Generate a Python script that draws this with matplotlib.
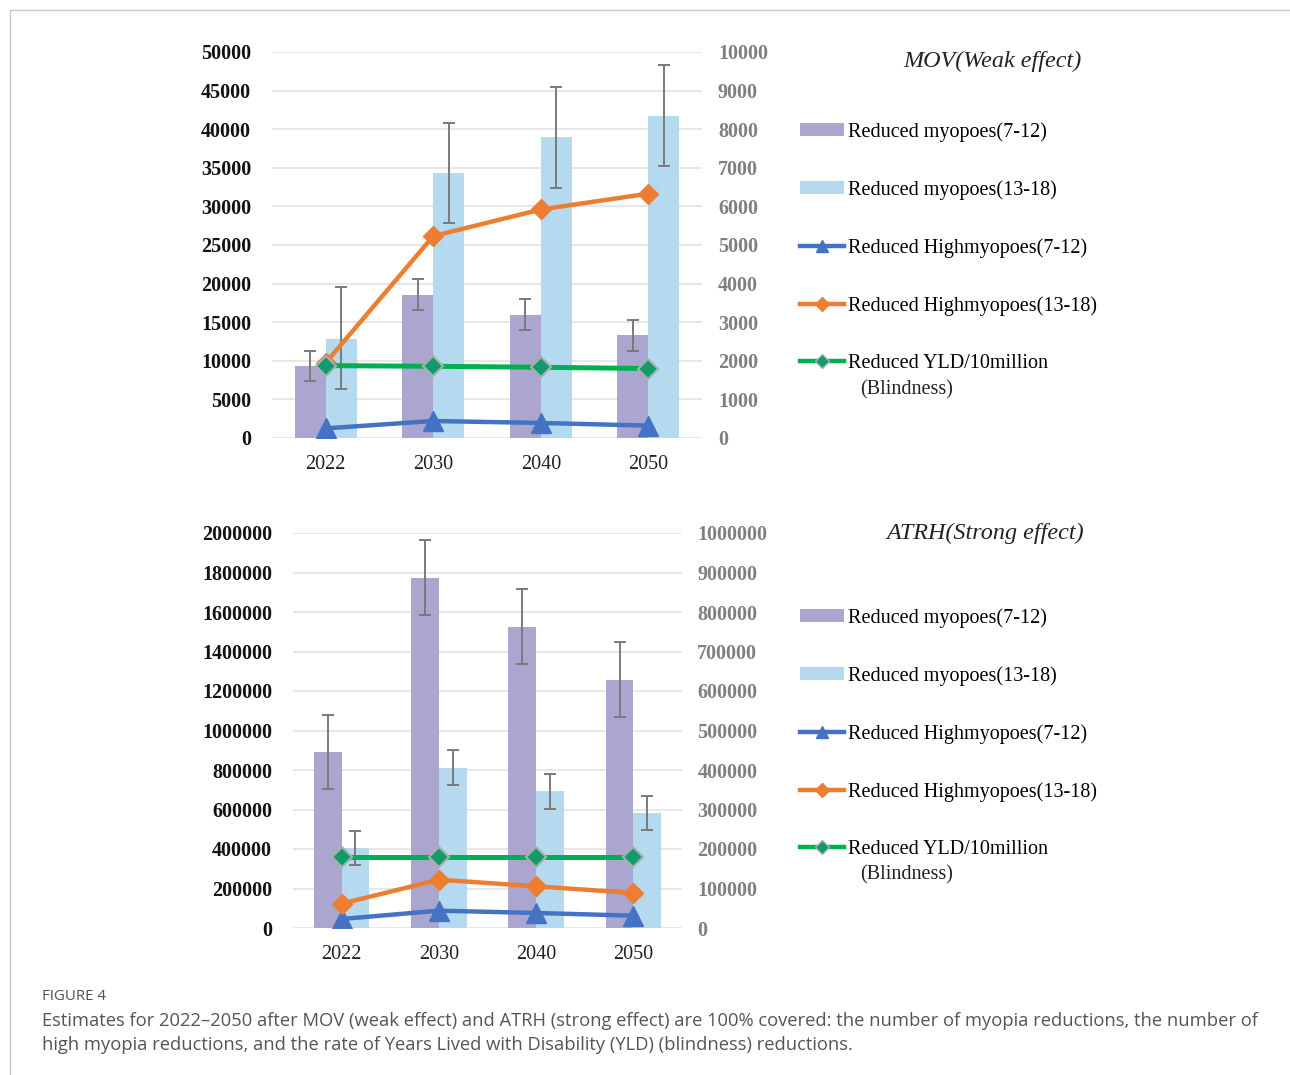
import matplotlib
matplotlib.use("Agg")
import matplotlib.pyplot as plt
import numpy as np
from matplotlib.lines import Line2D

years = ["2022", "2030", "2040", "2050"]

# MOV (weak effect)
mov_my712 = [9300, 18580, 15990, 13310]
mov_my712_hi = [11320, 20610, 18020, 15250]
mov_my712_lo = [7350, 16550, 14050, 11320]
mov_my1318 = [12880, 34310, 38940, 41660]
mov_my1318_hi = [19530, 40840, 45460, 48270]
mov_my1318_lo = [6400, 27830, 32410, 35220]
mov_high712 = [250, 440, 390, 320]
mov_high1318 = [1950, 5230, 5920, 6330]
mov_yld = [1875, 1858, 1832, 1800]

# ATRH (strong effect)
atrh_my712 = [889000, 1774000, 1524000, 1257000]
atrh_my712_hi = [1080000, 1963000, 1715000, 1446000]
atrh_my712_lo = [704000, 1585000, 1337000, 1070000]
atrh_my1318 = [405000, 812000, 692000, 584000]
atrh_my1318_hi = [493000, 901000, 780000, 670000]
atrh_my1318_lo = [321000, 726000, 604000, 498000]
atrh_high712 = [22800, 43900, 38000, 31200]
atrh_high1318 = [61600, 122400, 105500, 88600]
atrh_yld = [179000, 179000, 179000, 179000]

labels = ["Reduced myopoes(7-12)", "Reduced myopoes(13-18)",
          "Reduced Highmyopoes(7-12)", "Reduced Highmyopoes(13-18)",
          "Reduced YLD/10million"]
label_cont = "(Blindness)"

C_PURPLE = "#ABA6D0"
C_LBLUE = "#B5DAF0"
C_BLUE = "#4472C4"
C_ORANGE = "#ED7D31"
C_GREEN = "#00B050"
C_GRID = "#E3E3E3"
C_ERR = "#7A7A7A"

SERIF = "Liberation Serif"

W, H = 1290, 1075
fig = plt.figure(figsize=(W / 100, H / 100), dpi=100)


def panel(rect, my712, my712_hi, my712_lo, my1318, my1318_hi, my1318_lo,
          h712, h1318, yld, ylim_l, ylim_r, step_l, step_r, bw,
          pad_l, pad_r, title, title_xy, leg_xy, cont_xy):
    ax = fig.add_axes(rect)
    x = np.arange(len(years))
    my712 = np.array(my712); my1318 = np.array(my1318)
    e1 = [my712 - np.array(my712_lo), np.array(my712_hi) - my712]
    e2 = [my1318 - np.array(my1318_lo), np.array(my1318_hi) - my1318]
    b1 = ax.bar(x - bw / 2, my712, bw, color=C_PURPLE, zorder=2)
    b2 = ax.bar(x + bw / 2, my1318, bw, color=C_LBLUE, zorder=2)
    ax.errorbar(x - bw / 2, my712, yerr=e1, fmt="none", ecolor=C_ERR,
                elinewidth=1.4, capsize=4, capthick=1.4, zorder=3)
    ax.errorbar(x + bw / 2, my1318, yerr=e2, fmt="none", ecolor=C_ERR,
                elinewidth=1.4, capsize=4, capthick=1.4, zorder=3)
    ax.set_xlim(-0.5, len(years) - 0.5)
    ax.set_ylim(*ylim_l)
    ax.set_yticks(np.arange(ylim_l[0], ylim_l[1] + 1, step_l))
    ax.set_yticklabels([str(int(v)) for v in ax.get_yticks()],
                       fontfamily=SERIF, fontweight="bold", fontsize=14.5,
                       color="#111111")
    ax.set_xticks(x)
    ax.set_xticklabels(years, fontfamily=SERIF, fontsize=14.5, color="#222222")
    ax.grid(axis="y", color=C_GRID, linewidth=1.2)
    ax.set_axisbelow(True)
    for s in ax.spines.values():
        s.set_visible(False)
    ax.tick_params(axis="both", length=0)
    ax.tick_params(axis="y", pad=pad_l)
    ax.tick_params(axis="x", pad=12)

    ax2 = ax.twinx()
    ax2.set_ylim(*ylim_r)
    ax2.set_yticks(np.arange(ylim_r[0], ylim_r[1] + 1, step_r))
    ax2.set_yticklabels([str(int(v)) for v in ax2.get_yticks()],
                        fontfamily=SERIF, fontweight="bold", fontsize=14.5,
                        color="#7F7F7F")
    for s in ax2.spines.values():
        s.set_visible(False)
    ax2.tick_params(axis="y", length=0, pad=pad_r)
    ax2.plot(x, h712, color=C_BLUE, lw=3.2, marker="^", ms=14,
             markerfacecolor=C_BLUE, markeredgecolor=C_BLUE, zorder=4)
    ax2.plot(x, h1318, color=C_ORANGE, lw=3.2, marker="D", ms=10,
             markerfacecolor=C_ORANGE, markeredgecolor=C_ORANGE, zorder=4)
    ax2.plot(x, yld, color=C_GREEN, lw=3.6, marker="D", ms=10,
             markerfacecolor="#129A6E", markeredgecolor="#A8B0AC",
             markeredgewidth=1.5, zorder=5)

    h_l1 = Line2D([], [], color=C_BLUE, lw=3.2, marker="^", ms=9)
    h_l2 = Line2D([], [], color=C_ORANGE, lw=3.2, marker="D", ms=7)
    h_l3 = Line2D([], [], color=C_GREEN, lw=3.2, marker="D", ms=7,
                  markerfacecolor="#129A6E", markeredgecolor="#A8B0AC")
    fig.legend([b1, b2, h_l1, h_l2, h_l3], labels,
               loc="upper left", bbox_to_anchor=leg_xy,
               bbox_transform=fig.transFigure, frameon=False,
               prop={"family": SERIF, "size": 14.5},
               handlelength=2.2, handleheight=0.6, handletextpad=0.2,
               labelspacing=1.9, borderpad=0, borderaxespad=0)
    fig.text(cont_xy[0], cont_xy[1], label_cont, fontfamily=SERIF,
             fontsize=14.5, ha="left", va="center", color="#222222")
    fig.text(title_xy[0], title_xy[1], title, fontfamily=SERIF,
             fontstyle="italic", fontsize=17.4, ha="center", va="center",
             color="#222222")
    return ax


panel([272 / W, 1 - 438 / H, 430 / W, 386 / H],
      mov_my712, mov_my712_hi, mov_my712_lo,
      mov_my1318, mov_my1318_hi, mov_my1318_lo,
      mov_high712, mov_high1318, mov_yld,
      (0, 50000), (0, 10000), 5000, 1000, 0.29, 15, 11.5,
      "MOV(Weak effect)", (992 / W, 1 - 61 / H), (800 / W, 1 - 122 / H),
      (860 / W, 1 - 390 / H))

panel([293 / W, 1 - 928 / H, 389 / W, 395 / H],
      atrh_my712, atrh_my712_hi, atrh_my712_lo,
      atrh_my1318, atrh_my1318_hi, atrh_my1318_lo,
      atrh_high712, atrh_high1318, atrh_yld,
      (0, 2000000), (0, 1000000), 200000, 100000, 0.285, 15, 11,
      "ATRH(Strong effect)", (985 / W, 1 - 533 / H), (800 / W, 1 - 608 / H),
      (860 / W, 1 - 875 / H))

# frame lines of the figure panel
fig.add_artist(Line2D([10 / W, 1], [1 - 10 / H, 1 - 10 / H], color="#C8C8C8",
                      lw=1.0, transform=fig.transFigure))
fig.add_artist(Line2D([10 / W, 10 / W], [0, 1 - 10 / H], color="#C8C8C8",
                      lw=1.0, transform=fig.transFigure))

fig.text(42 / W, 1 - 996 / H, "FIGURE 4", fontfamily="Open Sans",
         fontsize=10.8, color="#505050", va="center", ha="left")
fig.text(42 / W, 1 - 1021 / H,
         "Estimates for 2022\u20132050 after MOV (weak effect) and ATRH (strong effect) are 100% covered: the number of myopia reductions, the number of",
         fontfamily="Open Sans", fontsize=13.2, color="#555555", va="center", ha="left")
fig.text(42 / W, 1 - 1045 / H,
         "high myopia reductions, and the rate of Years Lived with Disability (YLD) (blindness) reductions.",
         fontfamily="Open Sans", fontsize=13.2, color="#555555", va="center", ha="left")

fig.savefig("out.png", dpi=100)
